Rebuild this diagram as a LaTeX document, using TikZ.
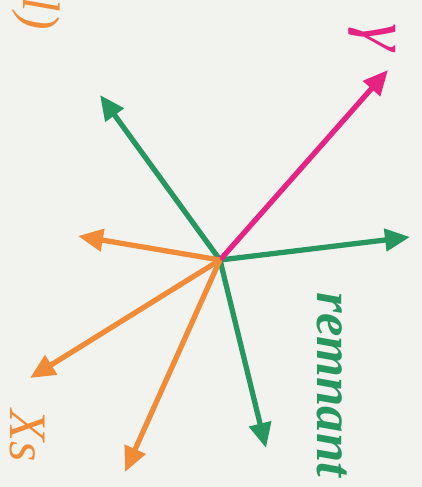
\documentclass[tikz,border=0pt]{standalone}
\usepackage{fontspec}
\setmainfont{Liberation Serif}
\usetikzlibrary{arrows.meta,positioning,calc}
\definecolor{colFond}{RGB}{242,243,239}
\definecolor{colRest}{RGB}{40,150,95}
\definecolor{colGam}{RGB}{228,35,130}
\definecolor{colJet}{RGB}{240,140,55}

\begin{document}
\begin{tikzpicture}[x=0.02cm,y=-0.02cm,
    fl/.style={-{Triangle[length=5mm,width=4.4mm]}, line width=3pt},
    lab/.style={font=\fontsize{30}{36}\selectfont\itshape, rotate=-90, inner sep=0pt}]
    \fill[colFond] (0,0) rectangle (422,487);
    \useasboundingbox (0,0) rectangle (422,487);
    \coordinate (vtx) at (220,260);
    % recul
    \coordinate (r1) at (100,95);
    \coordinate (r2) at (410,237);
    \coordinate (r3) at (266,448);
    % photon
    \coordinate (g1) at (388,70);
    % jets
    \coordinate (j1) at (78,236);
    \coordinate (j2) at (30,378);
    \coordinate (j3) at (125,472);
    \draw[fl, colRest] (vtx) -- (r1);
    \draw[fl, colRest] (vtx) -- (r2);
    \draw[fl, colRest] (vtx) -- (r3);
    \draw[fl, colGam]  (vtx) -- (g1);
    \draw[fl, colJet]  (vtx) -- (j1);
    \draw[fl, colJet]  (vtx) -- (j2);
    \draw[fl, colJet]  (vtx) -- (j3);
    \node[lab, colGam, font=\fontsize{40}{44}\selectfont\itshape] (gam) at (372,37) {γ};
    \node[lab, colRest, font=\fontsize{30}{36}\selectfont\bfseries\itshape] (rem) at (332,385) {remnant};
    \node[lab, colJet] (xs) at (27,436) {Xs};
    \node[lab, colJet, anchor=east] (lep) at (36,30) {(\textit{l})};
  \end{tikzpicture}
\end{document}
